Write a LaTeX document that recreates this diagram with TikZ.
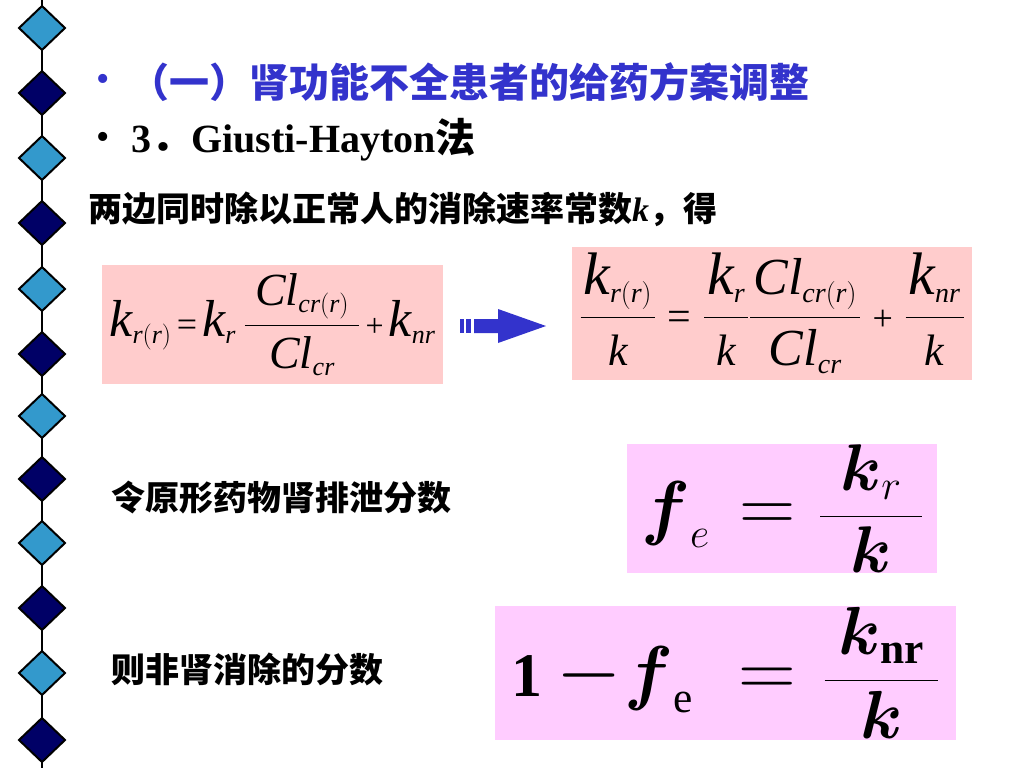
\RequirePackage{fix-cm}
\documentclass[tikz,border=0pt]{standalone}
\usepackage{amsmath}
\usepackage[no-math]{fontspec}
\setmainfont{Liberation Serif}
\newfontfamily\cjk{Noto Sans CJK SC}

\definecolor{titleblue}{RGB}{51,51,204}
\definecolor{boxpink}{RGB}{255,204,204}
\definecolor{boxviolet}{RGB}{255,204,255}
\definecolor{diamlight}{RGB}{51,153,204}
\definecolor{diamdark}{RGB}{0,0,102}

\DeclareMathSizes{46}{46}{26}{20}
\DeclareMathSizes{52}{52}{28}{20}

\newcommand\ti[1]{\text{\itshape #1}}
\newcommand\kk[1]{\text{\fontsize{#1}{#1}\selectfont\itshape k}}
\newcommand\sop[2]{\text{\fontsize{#1}{#1}\selectfont #2}}
\newcommand\sized[2]{\text{\fontsize{#1}{#1}\selectfont$#2$}}

\begin{document}
\begin{tikzpicture}[x=1pt,y=-1pt,
  cntext/.style={anchor=west, inner sep=0pt, font=\fontsize{34}{40}\selectfont\cjk\bfseries},
  eqbox/.style={inner sep=0pt}]

  \useasboundingbox (0,0) rectangle (1024,768);
  \fill[white] (0,0) rectangle (1024,768);

  % diamond column
  \draw[line width=2.5pt] (42,0) -- (42,768);
  \foreach \y/\col in {28/diamlight,93/diamdark,158/diamlight,223/diamdark,
                       289/diamlight,354/diamdark,416/diamlight,479/diamdark,
                       543/diamlight,608/diamdark,673/diamlight,740/diamdark}
    \filldraw[fill=\col, line width=2pt, line join=miter]
      (42,\y-22) -- (65,\y) -- (42,\y+22) -- (19,\y) -- cycle;

  % headings
  \node[text=titleblue, font=\fontsize{38}{38}\selectfont] (bulA) at (103,83) {•};
  \node[anchor=west, inner sep=0pt, text=titleblue,
        font=\fontsize{40}{44}\selectfont\cjk\bfseries] (title) at (129,82)
        {（一）肾功能不全患者的给药方案调整};
  \node[font=\fontsize{38}{38}\selectfont] (bulB) at (103,141) {•};
  \node[anchor=west, inner sep=0pt, font=\fontsize{40}{44}\selectfont\bfseries] (method) at (131,140)
        {3{\cjk ．}Giusti-Hayton{\cjk 法}};

  \node[cntext] (divide) at (88,209)
        {两边同时除以正常人的消除速率常数{\rmfamily\itshape k}，得};

  % first formula and its divided form
  \node[eqbox, fill=boxpink, minimum width=341, minimum height=119,
        font=\fontsize{46}{50}\selectfont] (eqA) at (272.5,324.5)
        {$\kk{52}_{\ti{r}(\ti{r})}\mkern2mu{\sop{36}{=}}\mkern2mu\kk{52}_{\ti{r}}\mkern3mu
          \dfrac{\mkern4mu\ti{Cl}_{\ti{cr}(\ti{r})}\mkern4mu}{\ti{Cl}_{\ti{cr}}}
          \mkern2mu{\sop{32}{+}}\mkern2mu\kk{52}_{\ti{nr}}$};

  \fill[titleblue] (460,319) rectangle (463.5,333);
  \fill[titleblue] (466,319) rectangle (471,333);
  \fill[titleblue] (474,319) -- (498,319) -- (498,309) -- (546,326)
                   -- (498,343) -- (498,333) -- (474,333) -- cycle;

  \node[eqbox, fill=boxpink, minimum width=400, minimum height=133,
        font=\fontsize{52}{56}\selectfont] (eqB) at (772,313.5)
        {$\dfrac{\mkern1mu\kk{60}_{\ti{r}(\ti{r})}\mkern1mu}{\kk{44}}\mkern4mu{\sop{42}{=}}\mkern4mu
          \dfrac{\mkern1mu\kk{60}_{\ti{r}}\mkern1mu}{\kk{44}}
          \dfrac{\mkern1mu\ti{Cl}_{\ti{cr}(\ti{r})}\mkern1mu}{\ti{Cl}_{\ti{cr}}}
          \mkern4mu{\sop{36}{+}}\mkern4mu\dfrac{\mkern1mu\kk{60}_{\ti{nr}}\mkern1mu}{\kk{44}}$};

  % fractions
  \node[cntext] (fetext) at (111,498) {令原形药物肾排泄分数};
  \node[eqbox, fill=boxviolet, minimum width=310, minimum height=129,
        font=\fontsize{60}{66}\selectfont] (eqC) at (782,508.5)
        {$\sized{72}{\boldsymbol{f}}_{e}\mkern9mu\sized{78}{=}\mkern7mu
          \dfrac{\mkern6mu\sized{66}{\boldsymbol{k}}_{r}\mkern6mu}{\sized{66}{\boldsymbol{k}}}$};

  \node[cntext] (nrtext) at (111,669) {则非肾消除的分数};
  \node[eqbox, fill=boxviolet, minimum width=461, minimum height=134,
        font=\fontsize{62}{68}\selectfont] (eqD) at (725.5,673)
        {$\text{\bfseries 1}\mkern4mu\sized{84}{-}\mkern1mu\sized{72}{\boldsymbol{f}}_{\text{e}}\mkern13mu
          \sized{80}{=}\mkern8mu
          \dfrac{\mkern4mu\sized{68}{\boldsymbol{k}}_{\text{\bfseries nr}}\mkern4mu}{\sized{68}{\boldsymbol{k}}}$};

\end{tikzpicture}
\end{document}
